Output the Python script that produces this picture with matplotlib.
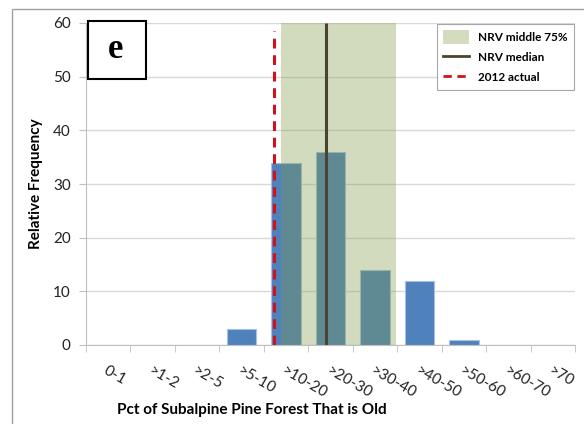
import numpy as np
import matplotlib
matplotlib.use("Agg")
import matplotlib.pyplot as plt
from matplotlib.patches import Patch, Rectangle
from matplotlib.lines import Line2D

# Data
categories = ["0-1", ">1-2", ">2-5", ">5-10", ">10-20", ">20-30",
              ">30-40", ">40-50", ">50-60", ">60-70", ">70"]
frequency = [0, 0, 0, 3, 34, 36, 14, 12, 1, 0, 0]

# NRV range and reference lines, in category-index units
nrv_low, nrv_high = 3.88, 6.47
nrv_median = 4.89
actual_2012 = 3.72
actual_top = 58.6

plt.rcParams['font.family'] = ['Lato', 'DejaVu Sans']

fig = plt.figure(figsize=(5.84, 4.24), dpi=100)
ax = fig.add_axes([86 / 584, 1 - 345 / 424, 489 / 584, 322 / 424])

x = np.arange(len(categories))

# bars
ax.bar(x, frequency, width=0.66, color="#4f81bd", edgecolor="#a9c1e0",
       linewidth=0.8, zorder=2)

# NRV middle 75% shading, drawn over bars
ax.axvspan(nrv_low, nrv_high, ymin=0, ymax=1, color="#7f9a46", alpha=0.35,
           linewidth=0, zorder=3)

# median and 2012 actual
ax.vlines(nrv_median, 0, 60, color="#4a4330", linewidth=2.2, zorder=4)
ax.vlines(actual_2012, 0, actual_top, color="#d0121b", linewidth=2.2,
          linestyles=(0, (3.2, 2.2)), zorder=5)

ax.set_xlim(-0.5, len(categories) - 0.5)
ax.set_ylim(0, 60)
ax.set_yticks(range(0, 61, 10))
ax.yaxis.grid(True, color="#d9d9d9", linewidth=1, zorder=0)
ax.set_axisbelow(True)

ax.set_xticks(x)
ax.set_xticklabels(categories, rotation=-30, ha="left", va="top",
                   rotation_mode="anchor", fontsize=11, color="#222222")
ax.set_xticks(np.arange(-0.5, len(categories)), minor=True)
ax.tick_params(axis="x", which="major", length=0, pad=13)
ax.tick_params(axis="x", which="minor", length=5, color="#bfbfbf")
ax.tick_params(axis="y", length=5, color="#bfbfbf", pad=6, labelsize=11,
               labelcolor="#222222")

for s in ["top", "right"]:
    ax.spines[s].set_visible(False)
for s in ["left", "bottom"]:
    ax.spines[s].set_color("#bfbfbf")

ax.set_ylabel("Relative Frequency", fontsize=11, fontweight="bold")
ax.yaxis.set_label_coords(-0.088, 0.5)
fig.text(252 / 584, 1 - 410 / 424, "Pct of Subalpine Pine Forest That is Old",
         ha="center", va="center", fontsize=11, fontweight="bold")

# legend
handles = [
    Patch(facecolor="#d4dcc0", edgecolor="none", label="NRV middle 75%"),
    Line2D([], [], color="#4a4330", linewidth=2, label="NRV median"),
    Line2D([], [], color="#d0121b", linewidth=2, linestyle=(0, (3, 2)),
           label="2012 actual"),
]
leg = ax.legend(handles=handles, loc="upper right", bbox_to_anchor=(1.0, 1.0),
                borderaxespad=0.1, fancybox=False, edgecolor="#a6a6a6",
                framealpha=1, prop={"weight": "bold", "size": 8.5},
                handlelength=2.2, handleheight=1.4, labelspacing=0.55,
                borderpad=0.5)
leg.get_frame().set_linewidth(0.8)
leg.set_zorder(10)

# panel label box
fig.patches.append(Rectangle((88 / 584, 1 - 79 / 424), 58 / 584, 58 / 424,
                             transform=fig.transFigure, facecolor="white",
                             edgecolor="black", linewidth=1.5, zorder=10))
fig.text(116 / 584, 1 - 50 / 424, "e", ha="center", va="center",
         fontsize=25, fontweight="bold", family="Liberation Serif", zorder=11)

# outer chart frame
fig.patches.append(Rectangle((12 / 584, -0.05), 1.0, 1 - 9 / 424 + 0.05,
                             transform=fig.transFigure, facecolor="none",
                             edgecolor="#a0a0a0", linewidth=1.0, zorder=0))

fig.savefig("out.png", dpi=100)
